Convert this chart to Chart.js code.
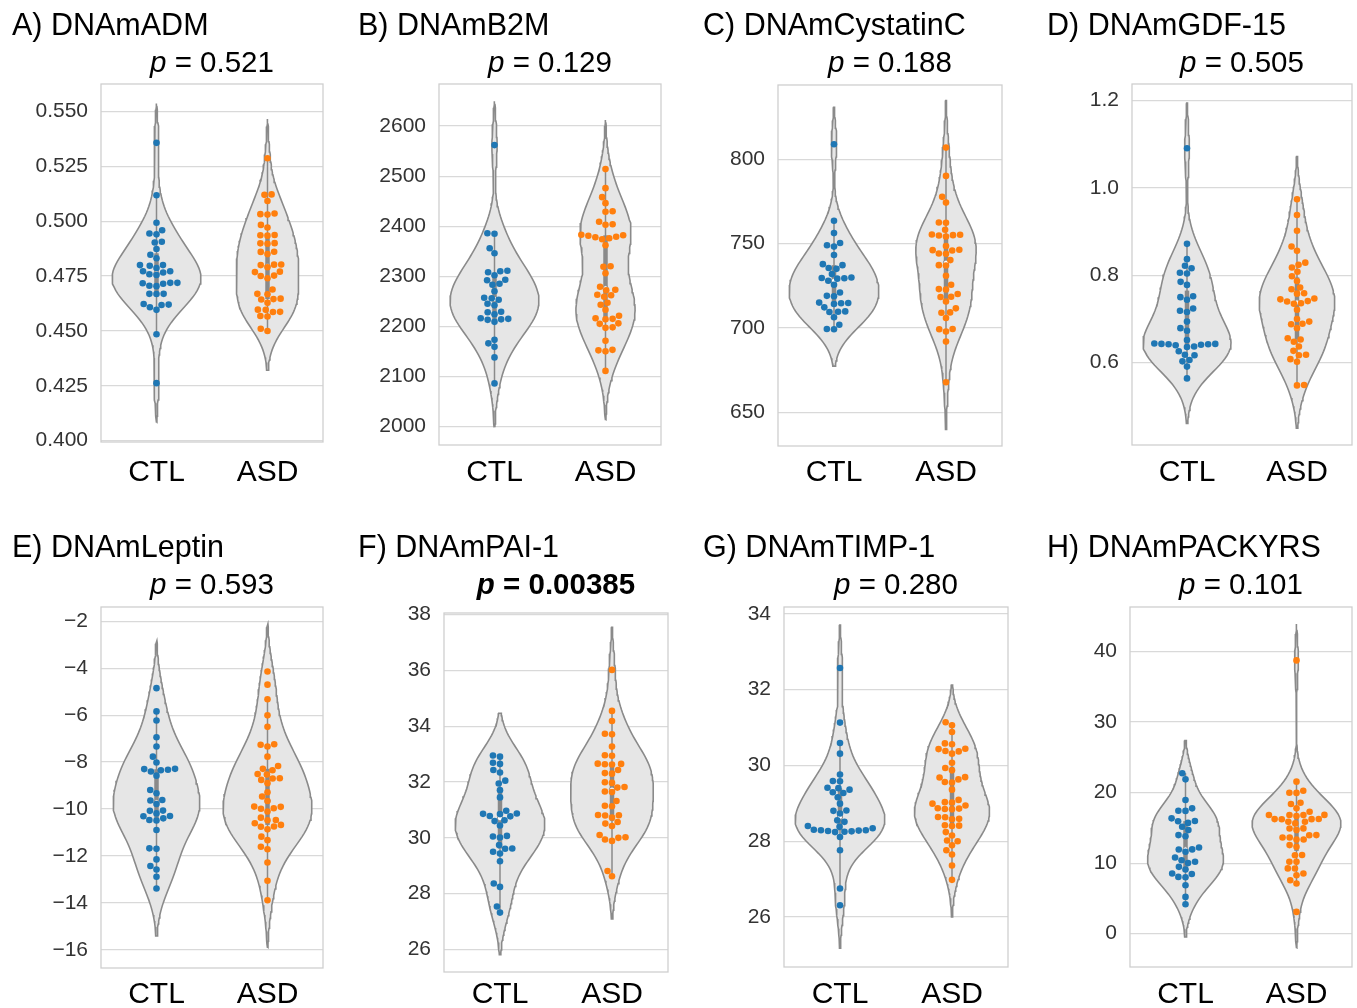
<!DOCTYPE html>
<html>
<head>
<meta charset="utf-8">
<script src="https://cdn.jsdelivr.net/npm/chart.js@4.4.1/dist/chart.umd.min.js"></script>
<style>
  body { margin: 0; background: #fff; width: 1357px; height: 1008px; overflow: hidden; position: relative; }
  canvas { position: absolute; }
</style>
</head>
<body>
<script>
// Violinos + swarm, 8 painéis (CTL vs ASD)

const GROUPS = ['CTL', 'ASD'];
const XPOS = [0, 1];

const admCtl = [0.5357, 0.5118, 0.4993, 0.4959, 0.4944, 0.4940, 0.4906, 0.4903, 0.4873, 0.4847, 0.4831, 0.4800, 0.4800, 0.4797, 0.4787, 0.4772, 0.4772, 0.4766, 0.4758, 0.4755, 0.4719, 0.4719, 0.4717, 0.4715, 0.4706, 0.4704, 0.4669, 0.4669, 0.4668, 0.4623, 0.4620, 0.4618, 0.4608, 0.4596, 0.4485, 0.4262];
const admAsd = [0.5287, 0.5122, 0.5120, 0.5092, 0.5035, 0.5032, 0.5030, 0.4983, 0.4971, 0.4937, 0.4936, 0.4934, 0.4900, 0.4899, 0.4897, 0.4861, 0.4860, 0.4850, 0.4803, 0.4802, 0.4800, 0.4790, 0.4770, 0.4768, 0.4752, 0.4750, 0.4740, 0.4689, 0.4669, 0.4667, 0.4647, 0.4645, 0.4643, 0.4628, 0.4597, 0.4596, 0.4587, 0.4586, 0.4568, 0.4566, 0.4510, 0.4500];

const b2mCtl = [2562, 2386, 2385, 2356, 2346, 2311, 2310, 2308, 2302, 2293, 2292, 2285, 2283, 2270, 2257, 2256, 2253, 2245, 2242, 2229, 2228, 2224, 2216, 2215, 2214, 2213, 2209, 2173, 2166, 2159, 2138, 2086];
const b2mAsd = [2514, 2476, 2458, 2446, 2430, 2429, 2409, 2404, 2403, 2383, 2382, 2381, 2379, 2378, 2376, 2374, 2362, 2320, 2319, 2306, 2279, 2273, 2272, 2263, 2262, 2259, 2247, 2243, 2233, 2221, 2216, 2215, 2214, 2206, 2205, 2198, 2197, 2171, 2153, 2152, 2150, 2111];

const cysCtl = [808.9, 763.5, 756.2, 750.3, 749.0, 748.2, 743.2, 737.8, 737.2, 735.5, 735.0, 731.9, 729.9, 729.6, 729.4, 729.2, 728.0, 725.6, 721.0, 719.0, 718.8, 715.0, 714.8, 714.6, 714.2, 712.2, 709.8, 709.6, 709.4, 706.3, 701.9, 699.4, 699.2];
const cysAsd = [806.9, 790.1, 777.7, 774.3, 762.5, 762.3, 758.2, 755.4, 755.2, 755.0, 754.8, 754.2, 748.6, 746.3, 746.1, 745.9, 744.1, 743.9, 740.2, 737.2, 737.0, 730.9, 725.6, 723.0, 722.8, 720.1, 718.5, 718.3, 715.7, 711.6, 709.2, 709.0, 705.9, 699.4, 699.2, 697.9, 691.9, 667.8];

const gdfCtl = [1.091, 0.872, 0.837, 0.822, 0.816, 0.806, 0.804, 0.785, 0.778, 0.752, 0.750, 0.744, 0.724, 0.719, 0.716, 0.694, 0.679, 0.673, 0.652, 0.644, 0.643, 0.643, 0.642, 0.642, 0.641, 0.640, 0.637, 0.636, 0.626, 0.618, 0.617, 0.606, 0.603, 0.591, 0.564];
const gdfAsd = [0.974, 0.938, 0.902, 0.866, 0.856, 0.829, 0.824, 0.818, 0.808, 0.798, 0.787, 0.772, 0.768, 0.759, 0.758, 0.747, 0.745, 0.741, 0.740, 0.736, 0.735, 0.721, 0.700, 0.694, 0.689, 0.688, 0.679, 0.656, 0.653, 0.648, 0.637, 0.627, 0.618, 0.617, 0.608, 0.602, 0.549, 0.548];

const lepCtl = [-4.85, -5.84, -6.23, -6.94, -7.34, -7.77, -8.02, -8.29, -8.30, -8.33, -8.35, -8.40, -8.58, -9.19, -9.33, -9.62, -9.64, -9.79, -10.07, -10.08, -10.19, -10.30, -10.31, -10.40, -10.47, -10.49, -10.90, -11.68, -11.70, -12.15, -12.43, -12.58, -12.89, -13.39];
const lepAsd = [-4.14, -4.70, -5.32, -6.01, -6.50, -7.24, -7.26, -7.34, -7.77, -8.17, -8.29, -8.35, -8.51, -8.53, -8.69, -8.70, -8.76, -8.90, -9.29, -9.47, -9.66, -9.90, -9.91, -9.97, -9.99, -10.11, -10.37, -10.47, -10.48, -10.61, -10.68, -10.75, -10.76, -10.87, -11.18, -11.33, -11.61, -11.72, -12.28, -13.06, -13.89];

const paiCtl = [32.95, 32.91, 32.69, 32.65, 32.43, 32.34, 32.05, 31.95, 31.71, 31.45, 30.97, 30.87, 30.86, 30.85, 30.78, 30.77, 30.63, 30.60, 30.44, 30.07, 30.05, 30.01, 29.74, 29.62, 29.61, 29.50, 29.44, 29.16, 28.36, 28.24, 27.54, 27.32];
const paiAsd = [36.02, 34.55, 34.19, 33.73, 33.71, 33.27, 32.96, 32.94, 32.66, 32.65, 32.64, 32.63, 32.43, 32.32, 32.30, 31.99, 31.97, 31.82, 31.80, 31.66, 31.64, 31.32, 31.15, 31.13, 30.82, 30.81, 30.80, 30.73, 30.57, 30.51, 30.42, 30.10, 30.02, 30.00, 29.94, 29.89, 28.81, 28.62];

const timpCtl = [32.57, 31.13, 30.59, 30.31, 29.76, 29.59, 29.58, 29.41, 29.40, 29.36, 29.29, 29.27, 29.16, 28.99, 28.81, 28.80, 28.73, 28.55, 28.51, 28.40, 28.38, 28.34, 28.30, 28.29, 28.29, 28.28, 28.27, 28.26, 28.25, 28.24, 28.11, 27.76, 26.75, 26.31];
const timpAsd = [31.14, 31.06, 30.88, 30.58, 30.56, 30.44, 30.43, 30.38, 30.37, 30.31, 30.07, 29.93, 29.87, 29.69, 29.68, 29.63, 29.56, 29.55, 29.36, 29.09, 29.03, 29.02, 28.99, 28.94, 28.87, 28.86, 28.85, 28.84, 28.64, 28.63, 28.59, 28.58, 28.42, 28.41, 28.40, 28.24, 28.15, 28.02, 28.00, 27.89, 27.76, 27.65, 27.36, 26.98];

const packCtl = [22.73, 21.87, 18.94, 17.76, 17.43, 17.40, 16.34, 15.96, 15.94, 15.70, 15.15, 14.68, 13.97, 13.80, 12.22, 11.94, 11.92, 11.60, 10.80, 10.40, 10.19, 10.00, 9.47, 9.10, 8.53, 8.45, 8.05, 8.00, 6.87, 5.21, 4.17];
const packAsd = [38.72, 21.54, 20.26, 19.98, 19.95, 18.56, 18.37, 17.76, 17.28, 16.83, 16.82, 16.81, 16.80, 16.66, 16.25, 16.24, 16.23, 16.22, 15.86, 15.85, 15.63, 14.92, 14.90, 14.68, 13.97, 13.95, 13.64, 13.62, 13.35, 13.33, 12.55, 12.31, 11.14, 11.12, 10.20, 10.18, 9.25, 9.23, 8.53, 8.29, 7.58, 7.11, 3.09];

const TITLES = ['A) DNAmADM', 'B) DNAmB2M', 'C) DNAmCystatinC', 'D) DNAmGDF-15', 'E) DNAmLeptin', 'F) DNAmPAI-1', 'G) DNAmTIMP-1', 'H) DNAmPACKYRS'];
const PVALUES = ['0.521', '0.129', '0.188', '0.505', '0.593', '0.00385', '0.280', '0.101'];

const ticksA = [0.400, 0.425, 0.450, 0.475, 0.500, 0.525, 0.550];
const ticksB = [2000, 2100, 2200, 2300, 2400, 2500, 2600];
const ticksC = [650, 700, 750, 800];
const ticksD = [0.6, 0.8, 1.0, 1.2];
const ticksE = [-16, -14, -12, -10, -8, -6, -4, -2];
const ticksF = [26, 28, 30, 32, 34, 36, 38];
const ticksG = [26, 28, 30, 32, 34];
const ticksH = [0, 10, 20, 30, 40];

const FONT = '"Liberation Sans", Arial, Helvetica, sans-serif';
const COLORS = ['#1f77b4', '#ff7f0e'];
const DOT_R = 3.3;
const TITLE_PX = 30.5, LABEL_PX = 30, P_PX = 29.5;

// geometria: [left, top, w, h, plotL, plotR, plotT, plotB] (px da página / canvas)
const panels = [
  { ctl: admCtl, asd: admAsd, ticks: ticksA, dec: 3, y: [0.3994, 0.5625], geo: [0, 0, 340, 515, 101, 323, 84, 442] },
  { ctl: b2mCtl, asd: b2mAsd, ticks: ticksB, dec: 0, y: [1963, 2684], geo: [346, 0, 340, 515, 93, 315, 84, 445] },
  { ctl: cysCtl, asd: cysAsd, ticks: ticksC, dec: 0, y: [630, 844], geo: [691, 0, 340, 515, 87, 311, 85, 446] },
  { ctl: gdfCtl, asd: gdfAsd, ticks: ticksD, dec: 1, y: [0.4115, 1.238], geo: [1035, 0, 322, 515, 97, 318, 84, 445] },
  { ctl: lepCtl, asd: lepAsd, ticks: ticksE, dec: 0, y: [-16.78, -1.39], geo: [0, 522, 340, 486, 101, 323, 85, 446] },
  { ctl: paiCtl, asd: paiAsd, ticks: ticksF, dec: 0, y: [25.19, 38.06], geo: [346, 522, 340, 486, 98, 322, 91, 450], bold: true },
  { ctl: timpCtl, asd: timpAsd, ticks: ticksG, dec: 0, y: [24.68, 34.18], geo: [691, 522, 340, 486, 93, 317, 85, 445] },
  { ctl: packCtl, asd: packAsd, ticks: ticksH, dec: 0, y: [-4.72, 46.29], geo: [1035, 522, 322, 486, 95, 317, 85, 445] },
];

// KDE gaussiano (Scott), cut = 2, 100 pontos - como o seaborn
function kde(vals) {
  const n = vals.length;
  const mean = vals.reduce((a, b) => a + b, 0) / n;
  const sd = Math.sqrt(vals.reduce((a, b) => a + (b - mean) ** 2, 0) / (n - 1));
  const bw = Math.pow(n, -0.2) * sd;
  const lo = Math.min(...vals) - 2 * bw, hi = Math.max(...vals) + 2 * bw;
  const ys = [], dens = [];
  for (let i = 0; i < 100; i++) {
    const y = lo + (hi - lo) * i / 99;
    let s = 0;
    for (const v of vals) s += Math.exp(-0.5 * ((y - v) / bw) ** 2);
    ys.push(y);
    dens.push(s / (n * bw * Math.sqrt(2 * Math.PI)));
  }
  return { ys, dens };
}

function quantile(sorted, q) {
  const pos = (sorted.length - 1) * q, i = Math.floor(pos), f = pos - i;
  return i + 1 < sorted.length ? sorted[i] + f * (sorted[i + 1] - sorted[i]) : sorted[i];
}

function violinPath(k, center, scale) {
  const right = k.ys.map((y, i) => ({ x: center + k.dens[i] * scale, y }));
  const left = k.ys.map((y, i) => ({ x: center - k.dens[i] * scale, y })).reverse();
  return right.concat(left, [right[0]]);
}

function beeswarm(pts, mid, r) {
  const d = 2 * r, placed = [];
  for (const p of pts) {
    const nb = placed.filter(q => Math.abs(q.y - p.py) < d);
    const cands = [mid];
    for (const q of nb) {
      const dy = p.py - q.y;
      const dx = Math.sqrt(Math.max(d * d - dy * dy, 0)) * 1.05;
      cands.push(q.x - dx, q.x + dx);
    }
    const order = cands.map((x, i) => ({ x, i }))
      .sort((a, b) => (Math.abs(a.x - mid) - Math.abs(b.x - mid)) || (a.i - b.i));
    let chosen = mid;
    for (const c of order) {
      if (nb.every(q => (q.x - c.x) ** 2 + (q.y - p.py) ** 2 >= d * d * 0.999)) { chosen = c.x; break; }
    }
    placed.push({ x: chosen, y: p.py, v: p.v });
  }
  return placed;
}

function applySwarm(chart) {
  const xs = chart.scales.x, ys = chart.scales.y;
  chart.data.datasets.forEach(ds => {
    if (ds.swarm === undefined) return;
    const mid = xs.getPixelForValue(ds.swarm);
    const pts = ds.data.slice().sort((a, b) => a.y - b.y)
      .map(p => ({ v: p.y, py: ys.getPixelForValue(p.y) }));
    ds.data = beeswarm(pts, mid, DOT_R + 0.1).map(p => ({ x: xs.getValueForPixel(p.x), y: p.v }));
  });
  chart.update('none');
}

const frame = {
  id: 'frame',
  beforeDatasetsDraw(chart) {
    const { ctx, chartArea: a } = chart;
    ctx.save();
    ctx.strokeStyle = '#cfcfcf';
    ctx.lineWidth = 1.3;
    ctx.strokeRect(a.left, a.top, a.right - a.left, a.bottom - a.top);
    ctx.restore();
  }
};

const pLabel = {
  id: 'pLabel',
  afterDraw(chart, args, opts) {
    const { ctx, chartArea: a } = chart;
    const w = opts.bold ? 'bold ' : '';
    const fIt = `italic ${w}${P_PX}px ${FONT}`, fNo = `${w}${P_PX}px ${FONT}`;
    const rest = ' = ' + opts.text;
    ctx.save();
    ctx.fillStyle = '#000';
    ctx.textBaseline = 'alphabetic';
    ctx.font = fIt; const w1 = ctx.measureText('p').width;
    ctx.font = fNo; const w2 = ctx.measureText(rest).width;
    const x = (a.left + a.right) / 2 - (w1 + w2) / 2;
    ctx.font = fIt; ctx.fillText('p', x, 72);
    ctx.font = fNo; ctx.fillText(rest, x + w1, 72);
    ctx.restore();
  }
};

function fmt(v, dec) {
  const s = Math.abs(v).toFixed(dec);
  return v < 0 ? '\u2212' + s : s;
}

panels.forEach((p, idx) => {
  const [left, top, W, H, L, R, T, B] = p.geo;
  const cv = document.createElement('canvas');
  cv.width = W; cv.height = H;
  cv.style.left = left + 'px'; cv.style.top = top + 'px';
  cv.style.width = W + 'px'; cv.style.height = H + 'px';
  document.body.appendChild(cv);

  const groups = [p.ctl, p.asd];
  const kdes = groups.map(kde);
  const maxD = Math.max(...kdes.map(k => Math.max(...k.dens)));
  const datasets = [];

  groups.forEach((vals, gi) => {
    datasets.push({
      label: GROUPS[gi], swarm: gi, order: 0,
      data: vals.map(v => ({ x: XPOS[gi], y: v })),
      backgroundColor: COLORS[gi], pointRadius: DOT_R, pointBorderWidth: 0, pointHoverRadius: DOT_R
    });
  });
  groups.forEach((vals, gi) => {
    const s = vals.slice().sort((a, b) => a - b);
    const q1 = quantile(s, 0.25), q2 = quantile(s, 0.5), q3 = quantile(s, 0.75);
    const lim = 1.5 * (q3 - q1);
    const h1 = Math.min(...s.filter(v => v >= q1 - lim));
    const h2 = Math.max(...s.filter(v => v <= q3 + lim));
    const c = XPOS[gi];
    datasets.push({ label: 'med', order: 1, data: [{ x: c, y: q2 }], pointRadius: 2.6,
      backgroundColor: '#ffffff', pointBorderColor: '#8a8a8a', pointBorderWidth: 1 });
    datasets.push({ type: 'line', label: 'iqr', order: 2, data: [{ x: c, y: q1 }, { x: c, y: q3 }],
      borderColor: '#8a8a8a', borderWidth: 4.5, pointRadius: 0, fill: false, borderCapStyle: 'butt' });
    datasets.push({ type: 'line', label: 'whisker', order: 3, data: [{ x: c, y: h1 }, { x: c, y: h2 }],
      borderColor: '#8a8a8a', borderWidth: 1.5, pointRadius: 0, fill: false });
    datasets.push({ type: 'line', label: 'violin', order: 4, data: violinPath(kdes[gi], c, 0.4 / maxD),
      borderColor: '#8a8a8a', borderWidth: 1.6, backgroundColor: '#e6e6e6', pointRadius: 0,
      fill: 'shape', tension: 0 });
  });

  const titleLH = TITLE_PX * 1.2, labelLH = LABEL_PX * 1.2;
  const chart = new Chart(cv, {
    type: 'scatter',
    data: { datasets },
    plugins: [frame, pLabel],
    options: {
      responsive: false, animation: false, events: [], devicePixelRatio: 1,
      layout: { padding: { left: 12, right: W - R, top: 0, bottom: 0 } },
      plugins: {
        legend: { display: false },
        tooltip: { enabled: false },
        title: {
          display: true, text: TITLES[idx], align: 'start', color: '#000',
          font: { family: FONT, size: TITLE_PX, weight: 'normal', lineHeight: 1.2 },
          padding: { top: 8.5, bottom: T - 8.5 - titleLH }
        },
        pLabel: { text: PVALUES[idx], bold: !!p.bold }
      },
      scales: {
        x: {
          type: 'linear', min: -0.5, max: 1.5,
          grid: { display: false, drawTicks: false }, border: { display: false },
          afterBuildTicks: s => { s.ticks = XPOS.map(v => ({ value: v })); },
          afterFit: s => { s.height = H - B; },
          ticks: { padding: 472.5 - B - labelLH / 2, color: '#000', autoSkip: false, maxRotation: 0,
            font: { family: FONT, size: LABEL_PX }, callback: v => GROUPS[v] }
        },
        y: {
          type: 'linear', min: p.y[0], max: p.y[1],
          grid: { color: '#d9d9d9', lineWidth: 1.2, drawTicks: false }, border: { display: false },
          afterBuildTicks: s => { s.ticks = p.ticks.map(v => ({ value: v })); },
          afterFit: s => { s.width = L - 12; },
          ticks: { padding: 13, color: '#333', autoSkip: false,
            font: { family: FONT, size: 21 }, callback: v => fmt(v, p.dec) }
        }
      }
    }
  });
  applySwarm(chart);
});
</script>
</body>
</html>
